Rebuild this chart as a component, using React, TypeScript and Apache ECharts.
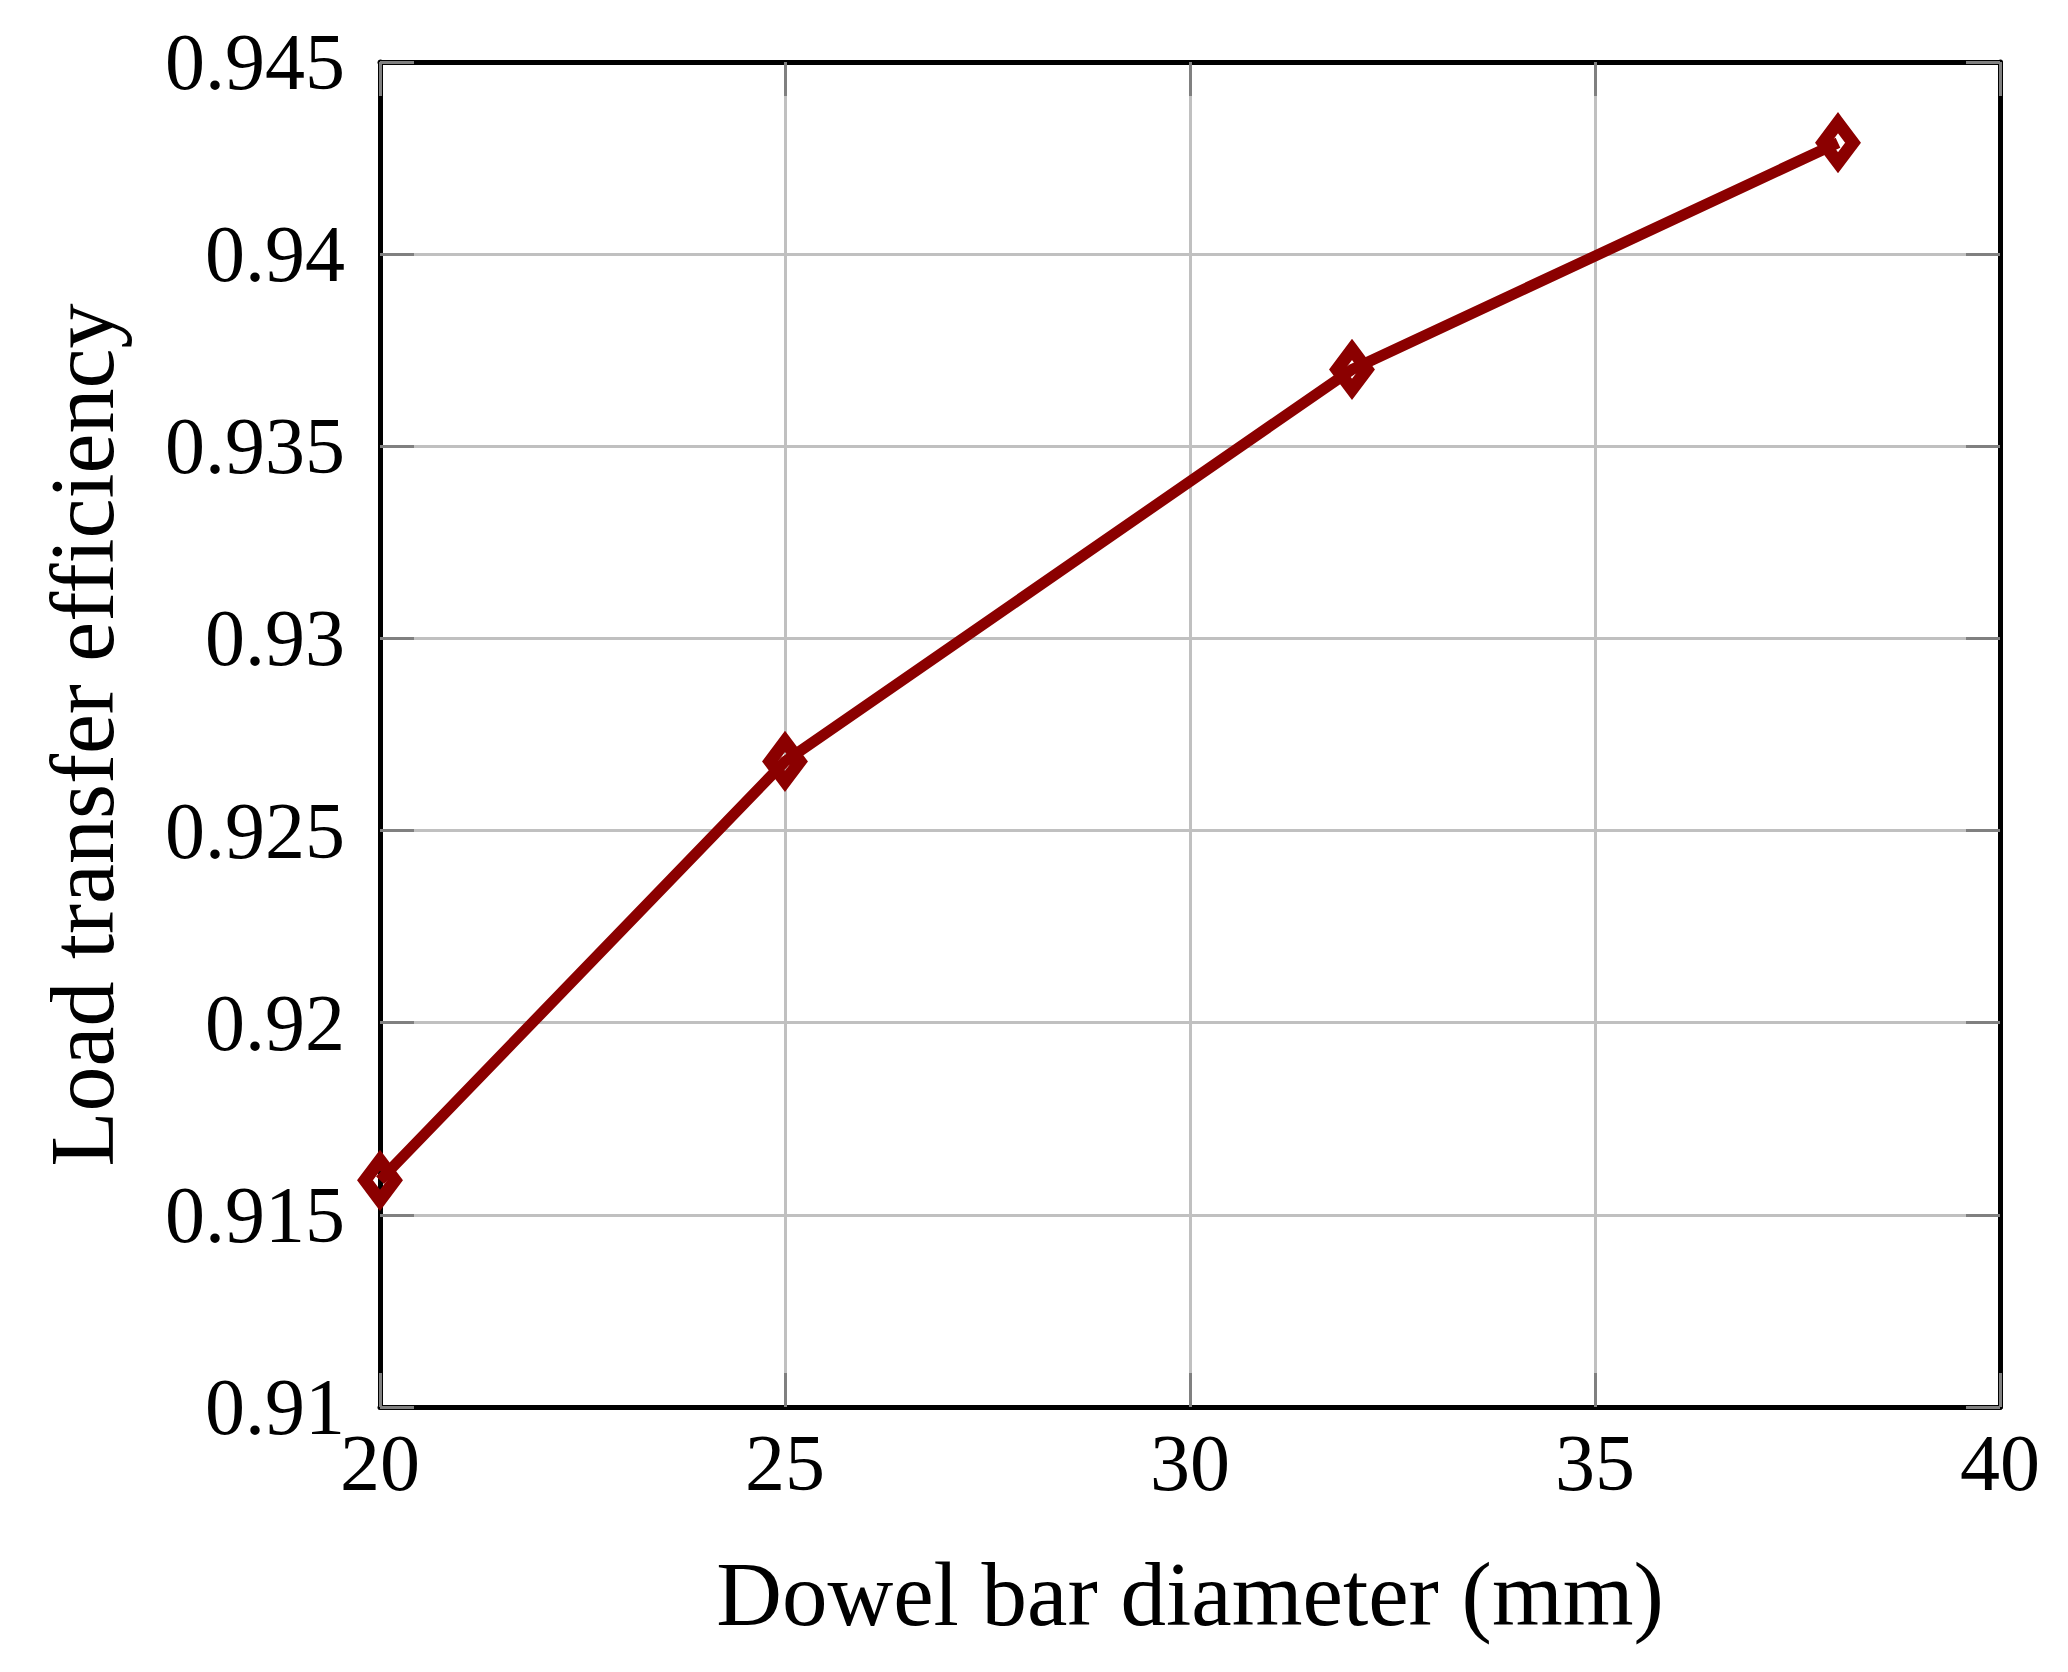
import React, { useEffect, useRef } from "react";
import * as echarts from "echarts";

const diameters = [20, 25, 32, 38];
const efficiency = [0.9159, 0.9268, 0.937, 0.9429];
const xTitle = "Dowel bar diameter (mm)";
const yTitle = "Load transfer efficiency";

const FONT = "'Liberation Serif', 'Times New Roman', serif";
const RED = "#8b0000";

export default function App() {
  const ref = useRef<HTMLDivElement>(null);
  useEffect(() => {
    if (!ref.current) return;
    const chart = echarts.init(ref.current, null, { renderer: "svg" });
    const fmtY = (v: number) => String(parseFloat(v.toFixed(3)));
    const tick = { show: true, inside: true, length: 34, lineStyle: { color: "#808080", width: 3 } };
    const axisLine = { show: true, onZero: false, lineStyle: { color: "#000", width: 5 } };
    const split = { show: true, showMinLine: false, showMaxLine: false, lineStyle: { color: "#c0c0c0", width: 3 } };
    chart.setOption({
      animation: false,
      backgroundColor: "#fff",
      grid: { left: 380, top: 62, width: 1620, height: 1345, containLabel: false },
      xAxis: [
        {
          type: "value", min: 20, max: 40, interval: 5, position: "bottom",
          axisLine, axisTick: tick, splitLine: split,
          axisLabel: { margin: 16, fontFamily: FONT, fontSize: 80, color: "#000" },
        },
        {
          type: "value", min: 20, max: 40, interval: 5, position: "top",
          axisLine, axisTick: tick, splitLine: { show: false }, axisLabel: { show: false },
        },
      ],
      yAxis: [
        {
          type: "value", min: 0.91, max: 0.945, interval: 0.005, position: "left",
          axisLine, axisTick: tick, splitLine: split,
          axisLabel: { margin: 35, fontFamily: FONT, fontSize: 80, color: "#000", formatter: fmtY },
        },
        {
          type: "value", min: 0.91, max: 0.945, interval: 0.005, position: "right",
          axisLine, axisTick: tick, splitLine: { show: false }, axisLabel: { show: false },
        },
      ],
      series: [
        {
          type: "line",
          data: diameters.map((d, i) => [d, efficiency[i]]),
          clip: false,
          symbol: "diamond",
          symbolSize: [30, 40],
          showSymbol: true,
          lineStyle: { color: RED, width: 11 },
          itemStyle: { color: "rgba(0,0,0,0)", borderColor: RED, borderWidth: 13 },
          z: 5,
        },
      ],
      graphic: [
        {
          type: "text", x: 1190, y: 1594,
          style: { text: xTitle, fontFamily: FONT, fontSize: 91, fill: "#000", align: "center", verticalAlign: "middle" },
        },
        {
          type: "text", x: 82, y: 735, rotation: Math.PI / 2,
          style: { text: yTitle, fontFamily: FONT, fontSize: 90, fill: "#000", align: "center", verticalAlign: "middle" },
        },
      ],
    });
    return () => chart.dispose();
  }, []);
  return (
    <div
      ref={ref}
      style={{ position: "fixed", left: 0, top: 0, width: 2068, height: 1672, background: "#fff" }}
    />
  );
}
